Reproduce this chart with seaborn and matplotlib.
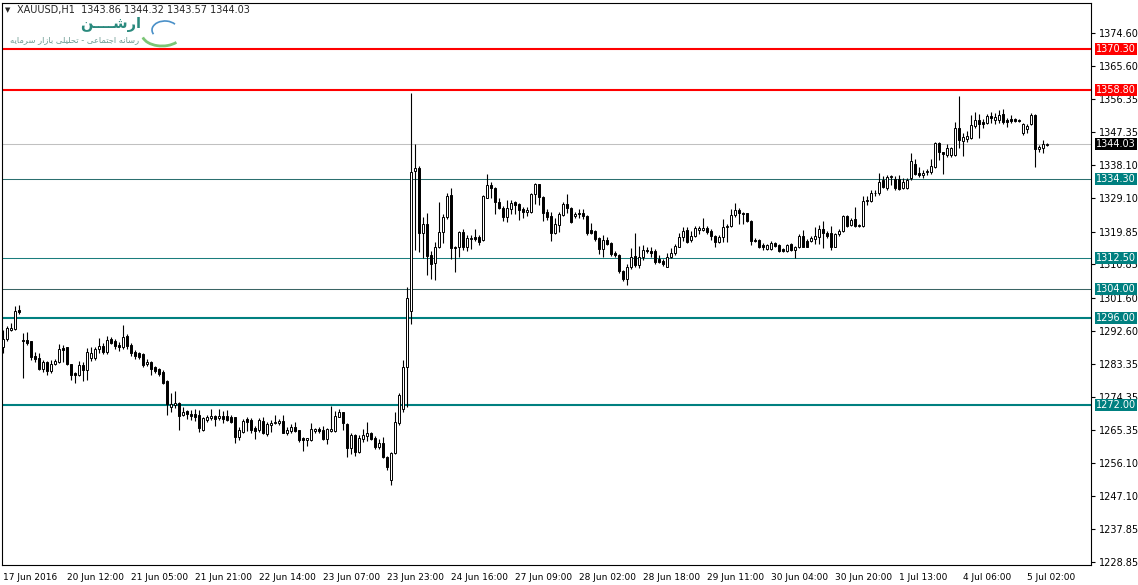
import numpy as np
import pandas as pd
import matplotlib
matplotlib.use("Agg")
import matplotlib.pyplot as plt
import matplotlib.transforms as mtransforms
from matplotlib.patches import Arc
import seaborn as sns

sns.set_style("white")
plt.rcParams['font.family'] = ['DejaVu Sans']

# XAUUSD H1 candles, 17 Jun 2016 -> 5 Jul 2016
opens = [
    1288.1, 1290.2, 1292.8, 1293.0, 1298.3, 1290.0, 1290.0, 1289.6, 1285.6, 1285.0,
    1282.0, 1284.0, 1281.6, 1283.4, 1284.0, 1287.8, 1288.0, 1283.4, 1280.9, 1280.4,
    1283.1, 1281.8, 1285.0, 1285.0, 1287.4, 1288.4, 1286.6, 1290.3, 1289.6, 1288.7,
    1288.0, 1291.1, 1288.7, 1286.8, 1286.5, 1286.2, 1283.4, 1284.0, 1282.5, 1281.9,
    1281.3, 1278.8, 1271.5, 1272.1, 1272.6, 1269.4, 1270.5, 1269.6, 1269.6, 1269.4,
    1265.2, 1268.0, 1268.4, 1269.1, 1268.4, 1269.1, 1269.1, 1268.9, 1268.7, 1263.4,
    1264.8, 1268.2, 1268.0, 1265.8, 1265.2, 1267.8, 1264.1, 1266.6, 1267.1, 1267.1,
    1267.8, 1264.5, 1265.0, 1266.0, 1265.2, 1262.9, 1262.4, 1262.4, 1265.0, 1265.4,
    1265.2, 1262.7, 1265.0, 1265.0, 1268.9, 1270.2, 1266.9, 1260.2, 1263.8, 1259.2,
    1262.7, 1263.6, 1264.5, 1262.9, 1260.4, 1261.7, 1257.7, 1251.4, 1258.9, 1267.2,
    1271.0, 1282.5, 1298.0, 1336.5, 1337.3, 1319.4, 1321.9, 1313.4, 1311.1, 1315.7,
    1319.7, 1324.0, 1330.0, 1315.7, 1315.7, 1319.9, 1315.7, 1317.8, 1318.5, 1318.5,
    1317.6, 1329.2, 1332.7, 1331.8, 1328.1, 1326.5, 1324.0, 1326.1, 1327.9, 1327.5,
    1326.1, 1325.4, 1325.2, 1330.2, 1333.0, 1329.5, 1325.4, 1324.2, 1319.6, 1321.7,
    1324.5, 1327.5, 1326.3, 1324.3, 1325.0, 1325.0, 1324.2, 1320.2, 1320.0, 1318.0,
    1315.1, 1317.6, 1316.8, 1313.9, 1313.4, 1309.0, 1306.7, 1310.0, 1313.2, 1310.7,
    1312.8, 1314.8, 1314.6, 1314.4, 1312.2, 1311.9, 1310.2, 1312.8, 1313.9, 1315.7,
    1318.3, 1320.3, 1317.6, 1318.7, 1320.3, 1320.3, 1320.8, 1320.1, 1318.7, 1317.1,
    1318.3, 1321.1, 1321.3, 1324.5, 1325.8, 1325.1, 1325.1, 1322.9, 1317.6, 1317.6,
    1316.2, 1315.2, 1315.0, 1316.8, 1316.2, 1315.0, 1314.6, 1316.5, 1314.8, 1315.6,
    1318.7, 1317.4, 1317.4, 1317.8, 1318.5, 1320.5, 1319.6, 1319.4, 1315.7, 1319.2,
    1320.1, 1324.2, 1321.7, 1323.3, 1321.4, 1321.3, 1328.4, 1328.4, 1330.4, 1330.4,
    1334.1, 1331.8, 1334.8, 1334.3, 1334.3, 1331.8, 1331.8, 1334.6, 1338.6, 1336.1,
    1335.5, 1336.2, 1336.2, 1337.8, 1344.2, 1341.9, 1341.0, 1341.0, 1341.0, 1348.5,
    1344.8, 1345.4, 1345.8, 1348.9, 1350.6, 1350.1, 1349.7, 1351.7, 1350.6, 1350.6,
    1352.2, 1350.7, 1350.8, 1350.8, 1350.6, 1347.0, 1348.2, 1349.4, 1351.9, 1342.6,
    1343.0, 1343.86,
]
highs = [
    1292.7, 1294.0, 1294.6, 1299.5, 1299.7, 1292.0, 1292.3, 1289.8, 1286.8, 1286.5,
    1284.5, 1284.3, 1284.5, 1284.8, 1288.9, 1288.7, 1288.2, 1283.5, 1281.2, 1284.3,
    1284.0, 1287.8, 1288.2, 1288.0, 1290.5, 1289.3, 1291.1, 1290.9, 1290.3, 1289.5,
    1294.1, 1291.8, 1289.3, 1287.2, 1286.8, 1286.5, 1284.8, 1284.3, 1282.9, 1282.2,
    1281.8, 1279.0, 1275.3, 1276.0, 1272.8, 1271.5, 1270.8, 1270.8, 1271.0, 1270.8,
    1268.7, 1269.4, 1271.0, 1269.4, 1271.0, 1270.5, 1270.8, 1269.4, 1268.9, 1266.0,
    1268.2, 1268.9, 1268.4, 1266.2, 1268.4, 1268.7, 1267.5, 1268.0, 1269.4, 1268.2,
    1269.4, 1266.0, 1267.0, 1267.5, 1265.3, 1263.2, 1262.9, 1267.2, 1265.9, 1266.0,
    1266.2, 1265.7, 1271.8, 1270.5, 1270.9, 1270.3, 1267.1, 1264.3, 1264.1, 1263.8,
    1265.4, 1267.5, 1264.8, 1263.5, 1262.6, 1263.2, 1258.1, 1259.2, 1270.3, 1275.3,
    1284.5, 1304.5, 1358.0, 1343.9, 1338.0, 1324.0, 1324.9, 1314.5, 1317.1, 1327.9,
    1324.7, 1330.4, 1331.8, 1316.0, 1320.0, 1320.5, 1318.9, 1318.9, 1320.5, 1319.0,
    1330.0, 1335.7, 1333.6, 1332.2, 1329.0, 1327.0, 1328.5, 1328.5, 1328.2, 1327.7,
    1326.7, 1326.7, 1330.5, 1333.2, 1333.0, 1329.7, 1326.0, 1325.2, 1323.6, 1325.4,
    1328.1, 1330.2, 1326.6, 1325.4, 1326.2, 1326.0, 1324.5, 1322.2, 1320.3, 1318.5,
    1319.0, 1318.5, 1317.1, 1314.6, 1313.7, 1309.3, 1310.9, 1315.3, 1319.6, 1315.8,
    1316.2, 1315.5, 1315.5, 1315.1, 1313.5, 1312.2, 1314.1, 1315.3, 1316.5, 1319.6,
    1321.1, 1321.1, 1320.0, 1321.3, 1321.3, 1323.5, 1321.3, 1320.5, 1318.9, 1318.9,
    1323.3, 1322.0, 1326.0, 1327.7, 1326.5, 1325.4, 1325.1, 1323.1, 1318.1, 1317.8,
    1316.7, 1316.5, 1317.4, 1317.1, 1316.5, 1315.3, 1316.5, 1316.8, 1316.0, 1319.2,
    1320.3, 1317.8, 1318.7, 1321.1, 1321.7, 1322.8, 1320.1, 1321.4, 1319.5, 1320.5,
    1324.5, 1324.5, 1323.5, 1326.7, 1321.9, 1329.7, 1329.7, 1331.4, 1331.4, 1336.1,
    1335.2, 1335.5, 1335.5, 1335.2, 1335.4, 1334.6, 1334.6, 1341.5, 1340.0, 1337.8,
    1336.9, 1337.2, 1339.8, 1344.6, 1344.6, 1341.9, 1344.0, 1343.3, 1350.2, 1357.1,
    1347.1, 1347.6, 1352.0, 1352.9, 1352.2, 1351.0, 1352.2, 1352.7, 1352.5, 1353.4,
    1353.7, 1351.3, 1352.0, 1351.3, 1350.8, 1349.7, 1349.4, 1352.5, 1352.2, 1343.8,
    1345.1, 1344.32,
]
lows = [
    1286.4, 1289.8, 1292.4, 1292.8, 1297.1, 1279.5, 1288.7, 1284.5, 1284.0, 1281.8,
    1281.1, 1280.4, 1280.9, 1283.0, 1283.6, 1284.0, 1283.1, 1279.0, 1278.1, 1280.1,
    1278.8, 1279.0, 1284.2, 1284.6, 1286.5, 1286.2, 1286.2, 1288.9, 1287.6, 1287.0,
    1287.6, 1287.6, 1285.6, 1284.8, 1284.9, 1282.7, 1282.9, 1280.4, 1280.9, 1280.0,
    1278.0, 1269.4, 1270.3, 1271.2, 1265.2, 1269.1, 1268.2, 1268.0, 1267.7, 1264.8,
    1264.9, 1267.5, 1268.0, 1266.4, 1268.0, 1267.2, 1267.7, 1267.2, 1261.6, 1262.5,
    1264.5, 1265.0, 1264.3, 1262.6, 1264.8, 1264.0, 1263.6, 1264.8, 1266.8, 1266.6,
    1264.3, 1263.8, 1264.5, 1264.7, 1262.0, 1259.5, 1260.8, 1262.2, 1264.5, 1264.3,
    1262.4, 1261.4, 1264.7, 1264.7, 1268.7, 1265.2, 1257.7, 1258.6, 1258.1, 1258.9,
    1261.9, 1262.3, 1262.5, 1260.1, 1259.9, 1257.4, 1254.2, 1250.1, 1258.5, 1266.5,
    1270.3, 1271.5, 1294.5, 1314.8, 1314.3, 1312.5, 1308.0, 1306.8, 1306.5, 1315.3,
    1316.8, 1323.3, 1312.3, 1308.8, 1313.0, 1314.9, 1314.5, 1315.1, 1317.3, 1316.2,
    1317.3, 1329.0, 1329.2, 1324.7, 1326.1, 1322.9, 1322.6, 1324.6, 1324.6, 1323.1,
    1323.6, 1324.2, 1324.9, 1327.5, 1327.2, 1322.9, 1323.0, 1317.4, 1319.2, 1319.8,
    1324.2, 1325.0, 1322.3, 1323.6, 1323.6, 1323.3, 1318.9, 1319.3, 1317.4, 1313.7,
    1312.8, 1316.2, 1313.2, 1312.8, 1308.6, 1306.3, 1305.3, 1309.7, 1310.2, 1309.8,
    1312.0, 1313.9, 1312.9, 1311.0, 1311.2, 1310.5, 1310.0, 1312.5, 1313.4, 1315.5,
    1317.4, 1316.6, 1317.1, 1318.5, 1319.2, 1320.1, 1319.2, 1317.6, 1315.7, 1316.6,
    1317.1, 1317.1, 1321.1, 1324.0, 1321.9, 1321.9, 1322.4, 1316.2, 1317.1, 1315.3,
    1314.8, 1314.7, 1314.8, 1315.5, 1314.3, 1314.3, 1314.3, 1314.5, 1312.5, 1315.3,
    1315.5, 1315.5, 1317.1, 1316.5, 1316.5, 1315.3, 1318.1, 1314.8, 1315.5, 1318.7,
    1319.8, 1321.1, 1321.3, 1321.1, 1321.1, 1321.1, 1327.2, 1328.1, 1329.6, 1329.9,
    1331.8, 1331.3, 1332.8, 1331.3, 1331.3, 1331.5, 1331.5, 1334.1, 1335.5, 1334.8,
    1334.6, 1335.5, 1335.8, 1337.5, 1339.6, 1335.7, 1340.5, 1340.5, 1340.7, 1343.0,
    1340.7, 1344.5, 1345.4, 1348.5, 1345.6, 1348.3, 1349.4, 1349.9, 1349.4, 1349.8,
    1349.4, 1348.6, 1349.7, 1350.0, 1350.2, 1346.5, 1347.1, 1349.2, 1337.8, 1341.8,
    1341.5, 1343.57,
]
closes = [
    1290.3, 1293.2, 1293.2, 1298.0, 1297.8, 1289.7, 1289.3, 1285.4, 1284.8, 1282.0,
    1284.0, 1281.6, 1283.4, 1284.3, 1287.4, 1287.2, 1283.4, 1280.4, 1280.4, 1283.1,
    1281.8, 1286.6, 1286.5, 1287.4, 1288.4, 1286.6, 1290.1, 1289.3, 1288.4, 1288.0,
    1290.7, 1288.4, 1286.5, 1285.6, 1285.4, 1283.1, 1284.0, 1281.9, 1281.6, 1280.6,
    1278.3, 1272.4, 1272.4, 1272.7, 1269.1, 1270.3, 1269.6, 1269.1, 1268.9, 1265.7,
    1268.4, 1268.9, 1269.1, 1268.3, 1269.1, 1268.3, 1268.0, 1267.5, 1263.4, 1265.2,
    1267.8, 1267.5, 1265.2, 1264.9, 1268.0, 1264.3, 1266.9, 1267.2, 1267.5, 1267.8,
    1264.5, 1265.2, 1266.0, 1265.0, 1262.4, 1262.4, 1262.9, 1265.4, 1265.4, 1265.0,
    1262.7, 1265.4, 1265.4, 1269.1, 1270.2, 1267.1, 1260.2, 1263.8, 1259.2, 1262.9,
    1263.8, 1264.5, 1262.7, 1260.6, 1261.7, 1257.7, 1254.9, 1258.9, 1267.5, 1274.9,
    1282.5, 1301.5, 1336.4, 1337.3, 1319.4, 1321.9, 1313.2, 1310.9, 1315.7, 1319.7,
    1324.0, 1329.8, 1315.3, 1315.3, 1319.7, 1315.7, 1318.0, 1318.2, 1317.8, 1317.1,
    1329.8, 1332.7, 1331.8, 1328.1, 1326.5, 1324.0, 1326.3, 1327.7, 1327.2, 1325.9,
    1325.4, 1325.8, 1330.2, 1333.0, 1329.5, 1325.1, 1323.8, 1319.6, 1322.0, 1324.7,
    1327.5, 1326.3, 1322.6, 1324.7, 1324.6, 1324.3, 1319.6, 1319.5, 1317.8, 1315.1,
    1317.6, 1316.5, 1313.7, 1313.3, 1308.9, 1306.7, 1310.0, 1313.0, 1310.7, 1313.0,
    1314.8, 1314.4, 1314.1, 1311.6, 1311.6, 1311.0, 1312.8, 1314.1, 1315.9, 1318.5,
    1320.1, 1317.1, 1318.7, 1320.8, 1320.8, 1320.8, 1319.8, 1318.7, 1317.1, 1318.5,
    1321.1, 1321.5, 1324.5, 1325.8, 1324.9, 1324.7, 1322.9, 1317.4, 1317.4, 1315.6,
    1315.6, 1316.2, 1316.8, 1315.9, 1314.6, 1314.6, 1316.2, 1314.8, 1315.6, 1318.7,
    1315.7, 1315.7, 1318.0, 1318.7, 1320.5, 1319.4, 1318.7, 1315.7, 1319.2, 1320.1,
    1324.2, 1321.3, 1323.0, 1321.4, 1321.7, 1328.4, 1328.7, 1330.6, 1330.6, 1333.6,
    1332.1, 1334.8, 1335.2, 1331.8, 1331.5, 1333.5, 1334.0, 1339.4, 1335.8, 1335.5,
    1336.1, 1336.6, 1337.9, 1344.2, 1341.9, 1341.3, 1343.0, 1342.8, 1348.5, 1345.1,
    1346.0, 1346.3, 1349.3, 1350.6, 1349.4, 1349.4, 1351.7, 1351.3, 1351.4, 1352.0,
    1350.2, 1350.2, 1350.4, 1350.4, 1350.4, 1349.4, 1349.1, 1351.9, 1342.6, 1343.3,
    1343.9, 1344.03,
]

# horizontal levels drawn on the chart
levels = [1370.30, 1358.80, 1334.30, 1312.50, 1304.00, 1296.00, 1272.00]
level_colors = ['#ff0000', '#ff0000', '#2b6f6f', '#1a7d7d', '#3a6565', '#008080', '#008080']
level_widths = [1.5, 1.5, 0.75, 0.75, 0.75, 1.5, 1.5]
level_box = ['#ff0000', '#ff0000', '#008080', '#008080', '#008080', '#008080', '#008080']
last_price = 1344.03

price_ticks = ['1374.60', '1365.60', '1356.35', '1347.35', '1338.10', '1329.10',
               '1319.85', '1310.85', '1301.60', '1292.60', '1283.35', '1274.35',
               '1265.35', '1256.10', '1247.10', '1237.85', '1228.85']
time_labels = ['17 Jun 2016', '20 Jun 12:00', '21 Jun 05:00', '21 Jun 21:00',
               '22 Jun 14:00', '23 Jun 07:00', '23 Jun 23:00', '24 Jun 16:00',
               '27 Jun 09:00', '28 Jun 02:00', '28 Jun 18:00', '29 Jun 11:00',
               '30 Jun 04:00', '30 Jun 20:00', '1 Jul 13:00', '4 Jul 06:00',
               '5 Jul 02:00']

header = 'XAUUSD,H1  1343.86 1344.32 1343.57 1344.03'
logo_title = 'ارشــــن'
logo_sub = 'رسانه اجتماعی - تحلیلی بازار سرمایه'

# --- tiny persian shaper (matplotlib has no RTL shaping) ---
FORMS = {
    'ا': ('\uFE8D', '\uFE8E', None, None), 'ب': ('\uFE8F', '\uFE90', '\uFE91', '\uFE92'),
    'ت': ('\uFE95', '\uFE96', '\uFE97', '\uFE98'), 'ج': ('\uFE9D', '\uFE9E', '\uFE9F', '\uFEA0'),
    'ح': ('\uFEA1', '\uFEA2', '\uFEA3', '\uFEA4'), 'ر': ('\uFEAD', '\uFEAE', None, None),
    'ز': ('\uFEAF', '\uFEB0', None, None), 'س': ('\uFEB1', '\uFEB2', '\uFEB3', '\uFEB4'),
    'ش': ('\uFEB5', '\uFEB6', '\uFEB7', '\uFEB8'), 'ع': ('\uFEC9', '\uFECA', '\uFECB', '\uFECC'),
    'ل': ('\uFEDD', '\uFEDE', '\uFEDF', '\uFEE0'), 'م': ('\uFEE1', '\uFEE2', '\uFEE3', '\uFEE4'),
    'ن': ('\uFEE5', '\uFEE6', '\uFEE7', '\uFEE8'), 'ه': ('\uFEE9', '\uFEEA', '\uFEEB', '\uFEEC'),
    'ی': ('\uFBFC', '\uFBFD', '\uFBFE', '\uFBFF'), 'ـ': ('\u0640',) * 4,
}


def shape_rtl(text):
    out = []
    for i, ch in enumerate(text):
        if ch not in FORMS:
            out.append(ch)
            continue
        prev = text[i - 1] if i > 0 else ''
        nxt = text[i + 1] if i + 1 < len(text) else ''
        jp = prev in FORMS and FORMS[prev][2] is not None
        jn = nxt in FORMS and FORMS[ch][2] is not None
        iso, fin, ini, med = FORMS[ch]
        out.append(med if jp and jn else fin if jp else ini if jn else iso)
    return ''.join(reversed(out))


df = pd.DataFrame({'open': opens, 'high': highs, 'low': lows, 'close': closes})
df['bar'] = np.arange(len(df))
df['up'] = df['close'] >= df['open']
body_lo = df[['open', 'close']].min(axis=1)
body_h = (df['close'] - df['open']).abs().clip(lower=0.12)

W, H = 1138, 585
fig = plt.figure(figsize=(W / 100, H / 100), dpi=100)
ax = fig.add_axes([2 / W, 20 / H, 1089 / W, 562 / H])

ax.vlines(df['bar'], df['low'], df['high'], color='black', linewidth=0.8, zorder=2)
ax.bar(df['bar'], body_h, bottom=body_lo, width=0.62,
       color=np.where(df['up'], 'white', 'black'), edgecolor='black',
       linewidth=0.7, zorder=3)

blend = mtransforms.blended_transform_factory(ax.transAxes, ax.transData)
for lvl, col, lw, box in zip(levels, level_colors, level_widths, level_box):
    ax.axhline(lvl, color=col, linewidth=lw, zorder=1)
    ax.text(1.0045, lvl, f'{lvl:.2f}', transform=blend, ha='left', va='center',
            fontsize=7, color='white', clip_on=False, zorder=6,
            bbox=dict(boxstyle='square,pad=0.1', fc=box, ec='none'))
ax.axhline(last_price, color='#c0c0c0', linewidth=0.75, zorder=1)
ax.text(1.0045, last_price, f'{last_price:.2f}', transform=blend, ha='left',
        va='center', fontsize=7, color='white', clip_on=False, zorder=6,
        bbox=dict(boxstyle='square,pad=0.1', fc='black', ec='none'))

ax.set_xlim(-0.25, 272.0)
ax.set_ylim(1228.02, 1382.86)

ax.yaxis.tick_right()
ax.set_yticks([float(t) for t in price_ticks], labels=price_ticks)
ax.tick_params(axis='y', direction='out', length=3, width=0.8, pad=2.5,
               labelsize=7, colors='black')
ax.set_xticks(range(0, 16 * len(time_labels), 16), labels=time_labels)
ax.tick_params(axis='x', direction='out', length=4, width=0.8, pad=1.5,
               labelsize=6.5, colors='black')
for lab in ax.get_xticklabels():
    lab.set_horizontalalignment('left')
for sp in ax.spines.values():
    sp.set_color('black')
    sp.set_linewidth(0.8)
ax.grid(False)

# header + logo
fig.text(5 / W, 1 - 10 / H, '\u25bc', fontsize=5, va='center')
fig.text(17 / W, 1 - 10 / H, header, fontsize=7, va='center')
fig.text(111 / W, 1 - 25 / H, shape_rtl(logo_title), fontsize=10.5, fontweight='bold',
         color='#2b8a7e', ha='center', va='center')
fig.text(75 / W, 1 - 40 / H, shape_rtl(logo_sub), fontsize=6, color='#6d9c93',
         ha='center', va='center')
fig.add_artist(Arc((162, H - 34), 40, 24, theta1=190, theta2=330, color='#7cc576',
                   linewidth=2, transform=mtransforms.IdentityTransform()))
fig.add_artist(Arc((165, H - 30), 26, 18, theta1=30, theta2=200, color='#4a90c8',
                   linewidth=1.2, transform=mtransforms.IdentityTransform()))

fig.savefig('out.png', dpi=100, facecolor='white')
